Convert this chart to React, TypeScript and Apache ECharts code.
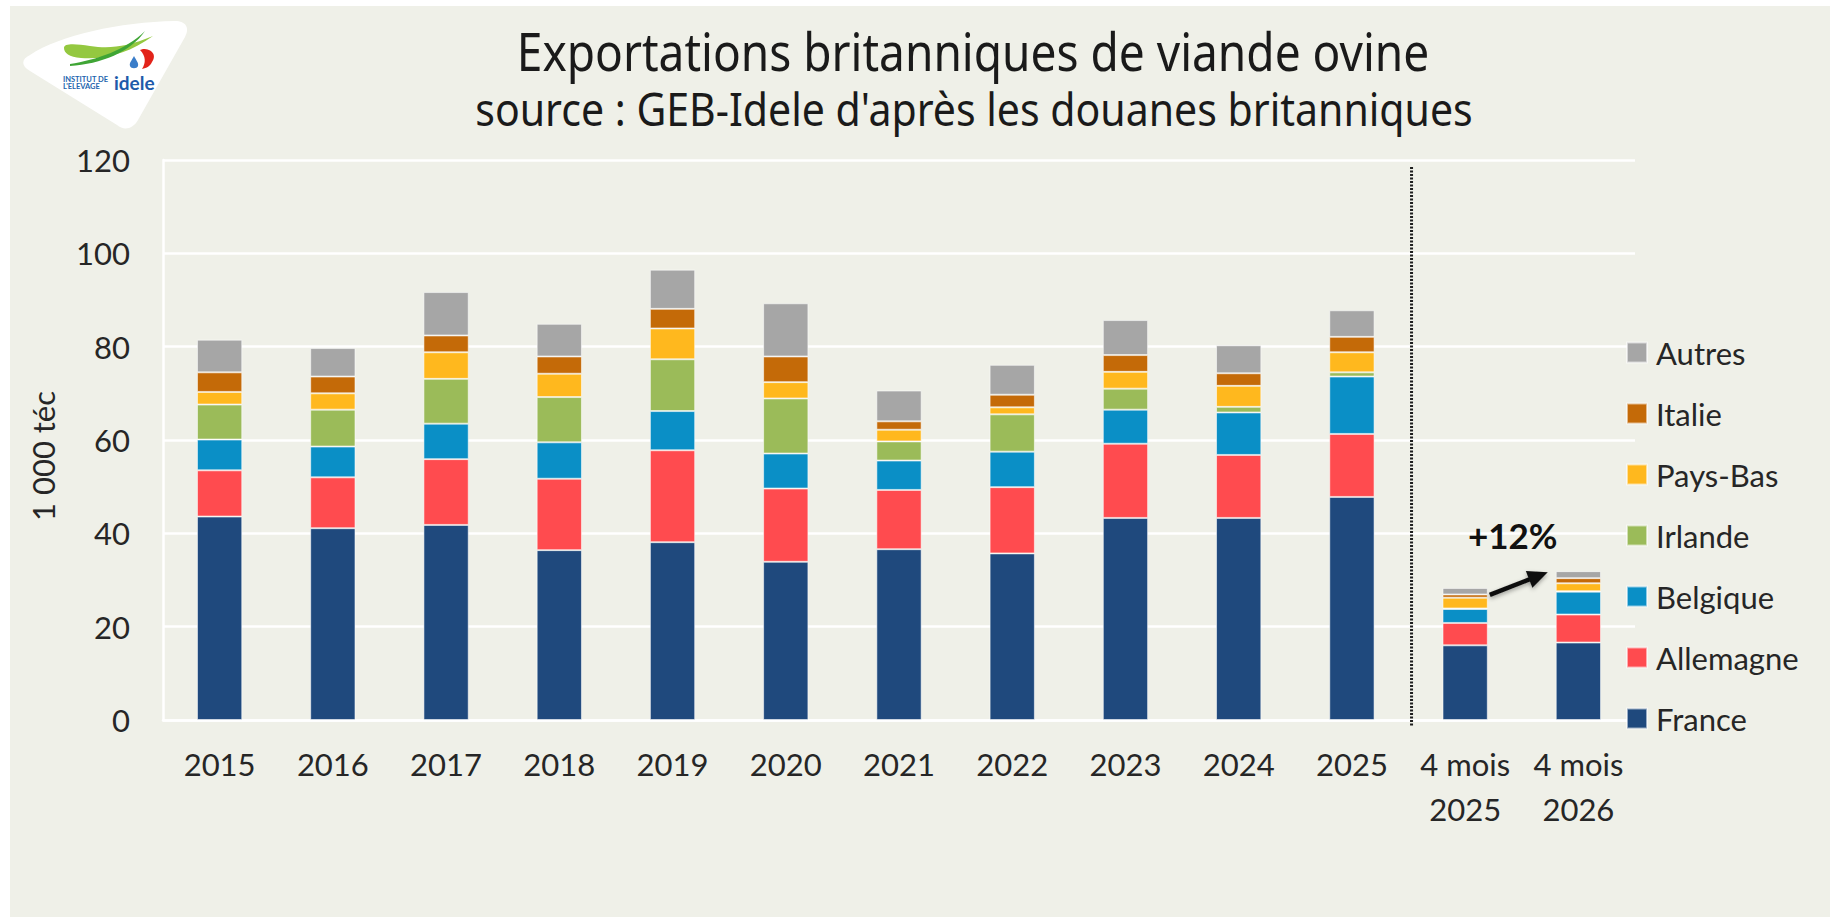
import React, { useEffect, useRef } from 'react';
import * as echarts from 'echarts';

// ---- Data (1 000 téc) ----
const categories = ['2015', '2016', '2017', '2018', '2019', '2020', '2021', '2022', '2023', '2024', '2025', '4 mois\n2025', '4 mois\n2026'];
const france = [43.6, 41.1, 41.8, 36.4, 38.1, 33.9, 36.6, 35.7, 43.3, 43.3, 47.8, 16.0, 16.6];
const allemagne = [9.9, 10.9, 14.1, 15.3, 19.7, 15.7, 12.7, 14.2, 15.9, 13.5, 13.5, 4.8, 6.0];
const belgique = [6.6, 6.6, 7.6, 7.8, 8.4, 7.5, 6.3, 7.6, 7.3, 9.1, 12.3, 3.0, 4.9];
const irlande = [7.5, 7.9, 9.6, 9.7, 11.1, 11.8, 4.1, 8.0, 4.5, 1.2, 0.9, 0.1, 0.1];
const paysBas = [2.7, 3.5, 5.7, 5.0, 6.6, 3.5, 2.5, 1.5, 3.6, 4.5, 4.3, 2.3, 1.7];
const italie = [4.2, 3.6, 3.6, 3.7, 4.2, 5.5, 1.8, 2.7, 3.6, 2.7, 3.3, 0.7, 1.1];
const autres = [7.0, 6.1, 9.3, 7.0, 8.4, 11.4, 6.6, 6.4, 7.5, 6.0, 5.7, 1.4, 1.5];

const seriesNames = ['France', 'Allemagne', 'Belgique', 'Irlande', 'Pays-Bas', 'Italie', 'Autres'];
const seriesValues = [france, allemagne, belgique, irlande, paysBas, italie, autres];
const seriesColors = ['#1F497D', '#FF4B4F', '#0A8FC6', '#9BBB59', '#FFB81E', '#C46A08', '#A6A6A6'];
const legendOrder = [...seriesNames].reverse();

const yMin = 0;
const yMax = 120;
const yInterval = 20;

const titleText = 'Exportations britanniques de viande ovine';
const subtitleText = "source : GEB-Idele d'après les douanes britanniques";
const yAxisTitle = '1 000 téc';
const growthLabel = '+12%';

// ---- Logo shapes ----
const LOGO_BLOB = 'M 30 55 C 60 35 120 22 175 21 C 186 21 190 28 185 37 L 138 120 C 133 129 124 131 117 125 L 30 71 C 21 66 21 59 30 55 Z';
const LOGO_SWOOSH1 = 'M 64 48 C 64 43 76 44 90 46 C 110 49 126 47 153 36 C 131 52 106 60 81 58 C 69 57 64 53 64 48 Z';
const LOGO_SWOOSH2 = 'M 70 64 C 96 60 126 50 145 31 C 131 52 101 64 70 66 Z';
const LOGO_RED = 'M 143 49 C 152 49 157 55 152 62 C 150 66 147 68 142 69 C 146 63 146 56 140 50 Z';
const LOGO_DROP = 'M 134 56 C 136 60 139 63 138 66 C 137 69 131 69 130 66 C 129 63 132 60 134 56 Z';

echarts.graphic.registerShape('logoBlob', echarts.graphic.extendPath(LOGO_BLOB, {}));
echarts.graphic.registerShape('logoSwoosh1', echarts.graphic.extendPath(LOGO_SWOOSH1, {}));
echarts.graphic.registerShape('logoSwoosh2', echarts.graphic.extendPath(LOGO_SWOOSH2, {}));
echarts.graphic.registerShape('logoRed', echarts.graphic.extendPath(LOGO_RED, {}));
echarts.graphic.registerShape('logoDrop', echarts.graphic.extendPath(LOGO_DROP, {}));

const LATO = "Lato, 'Noto Sans', sans-serif";
const TITLE_FONT = "'Noto Sans', sans-serif";
const TEXT_COLOR = '#262626';

function measure(text: string, font: string): number {
  const c = document.createElement('canvas').getContext('2d');
  if (!c) return 1;
  c.font = font;
  return c.measureText(text).width || 1;
}

export default function App() {
  const ref = useRef<HTMLDivElement>(null);

  useEffect(() => {
    if (!ref.current) return;
    const chart = echarts.init(ref.current, undefined, { renderer: 'svg' });

    chart.setOption({
      animation: false,
      backgroundColor: '#EFF0E8',
      grid: { left: 163, right: 195, top: 160, bottom: 197, containLabel: false },
      legend: {
        data: legendOrder,
        orient: 'vertical',
        left: 1626,
        top: 337,
        padding: 0,
        itemWidth: 20,
        itemHeight: 20,
        itemGap: 30,
        icon: 'rect',
        textStyle: { fontFamily: LATO, fontSize: 31, color: TEXT_COLOR, padding: [0, 0, 0, 4] },
      },
      xAxis: {
        type: 'category',
        data: categories,
        axisTick: { show: false },
        axisLine: { show: true, lineStyle: { color: '#FFFFFF', width: 2.5 } },
        axisLabel: { fontFamily: LATO, fontSize: 31, lineHeight: 45, color: TEXT_COLOR, margin: 21, interval: 0 },
      },
      yAxis: {
        type: 'value',
        min: yMin,
        max: yMax,
        interval: yInterval,
        axisLine: { show: true, lineStyle: { color: '#FFFFFF', width: 2.5 } },
        axisTick: { show: false },
        splitLine: { lineStyle: { color: '#FFFFFF', width: 2.5 } },
        axisLabel: { fontFamily: LATO, fontSize: 31, color: TEXT_COLOR, margin: 33 },
      },
      series: seriesNames.map((name, i) => ({
        name,
        type: 'bar',
        stack: 'total',
        barWidth: '40%',
        data: seriesValues[i],
        itemStyle: { color: seriesColors[i], borderColor: 'rgba(255,255,255,0.55)', borderWidth: 1 },
      })),
    });

    // Positions from the library's scales
    const px = (ci: number, v: number) => chart.convertToPixel({ xAxisIndex: 0, yAxisIndex: 0 }, [ci, v]) as number[];
    const total = (ci: number) => seriesValues.reduce((s, arr) => s + arr[ci], 0);
    const i25 = categories.length - 2;
    const i26 = categories.length - 1;
    const p25 = px(i25, total(i25));
    const p26 = px(i26, total(i26));
    const band = p26[0] - p25[0];
    const barW = band * 0.4;
    const sepX = (px(i25 - 1, 0)[0] + p25[0]) / 2 + 3;
    const topY = px(0, yMax)[1];
    const zeroY = px(0, yMin)[1];

    const start = [p25[0] + barW / 2 + 2, p25[1] + 7];
    const tip = [p26[0] - barW / 2 - 8, p26[1] + 1];
    const dx = tip[0] - start[0];
    const dy = tip[1] - start[1];
    const len = Math.sqrt(dx * dx + dy * dy);
    const ux = dx / len;
    const uy = dy / len;
    const headL = 20;
    const headW = 9;
    const base = [tip[0] - ux * headL, tip[1] - uy * headL];
    const nx = -uy;
    const ny = ux;

    const titleSize = 53;
    const subSize = 45;
    const titleScale = 913 / measure(titleText, `${titleSize}px 'Noto Sans'`);
    const subScale = 998 / measure(subtitleText, `${subSize}px 'Noto Sans'`);

    chart.setOption({
      graphic: [
        { type: 'rect', shape: { x: 0, y: 0, width: 1830, height: 6 }, style: { fill: '#FFFFFF' }, silent: true },
        { type: 'rect', shape: { x: 0, y: 0, width: 10, height: 917 }, style: { fill: '#FFFFFF' }, silent: true },
        // logo
        { type: 'logoBlob', x: 0, y: 0, style: { fill: '#FFFFFF' }, silent: true },
        { type: 'logoSwoosh1', x: 0, y: 0, style: { fill: '#94C840' }, silent: true },
        { type: 'logoSwoosh2', x: 0, y: 0, style: { fill: '#3FA535' }, silent: true },
        { type: 'logoRed', x: 0, y: 0, style: { fill: '#E2231A' }, silent: true },
        { type: 'logoDrop', x: 0, y: 0, style: { fill: '#3A7DC9' }, silent: true },
        { type: 'text', x: 63, y: 79, style: { text: 'INSTITUT DE', fontFamily: LATO, fontWeight: 'bold', fontSize: 7.5, fill: '#2364AE', verticalAlign: 'middle' }, silent: true },
        { type: 'text', x: 63, y: 86, style: { text: "L'ELEVAGE", fontFamily: LATO, fontWeight: 'bold', fontSize: 7.5, fill: '#2364AE', verticalAlign: 'middle' }, silent: true },
        { type: 'text', x: 114, y: 82, style: { text: 'idele', fontFamily: LATO, fontWeight: 'bold', fontSize: 19, fill: '#1E5BAA', verticalAlign: 'middle' }, silent: true },
        // titles
        {
          type: 'text', x: 973, y: 71 - 0.388 * titleSize, scaleX: titleScale, scaleY: 1,
          style: { text: titleText, fontFamily: TITLE_FONT, fontSize: titleSize, fill: '#1A1A1A', align: 'center', verticalAlign: 'middle' },
        },
        {
          type: 'text', x: 974, y: 126.7 - 0.388 * subSize, scaleX: subScale, scaleY: 1,
          style: { text: subtitleText, fontFamily: TITLE_FONT, fontSize: subSize, fill: '#1A1A1A', align: 'center', verticalAlign: 'middle' },
        },
        // y axis title
        {
          type: 'text', x: 43, y: 456, rotation: Math.PI / 2,
          style: { text: yAxisTitle, fontFamily: LATO, fontSize: 31, fill: TEXT_COLOR, align: 'center', verticalAlign: 'middle' },
        },
        // separator (dotted)
        {
          type: 'line', shape: { x1: sepX, y1: topY + 7, x2: sepX, y2: zeroY + 7 },
          style: { stroke: '#1E1E1E', lineWidth: 3, lineDash: [2, 1.5] },
          z: 10,
        },
        // growth arrow
        {
          type: 'line', shape: { x1: start[0], y1: start[1], x2: base[0] + ux * 2, y2: base[1] + uy * 2 },
          style: { stroke: '#111111', lineWidth: 4.5, shadowBlur: 4, shadowColor: 'rgba(0,0,0,0.35)', shadowOffsetY: 2 },
          z: 10,
        },
        {
          type: 'polygon',
          shape: { points: [[tip[0], tip[1]], [base[0] + nx * headW, base[1] + ny * headW], [base[0] - nx * headW, base[1] - ny * headW]] },
          style: { fill: '#111111', shadowBlur: 4, shadowColor: 'rgba(0,0,0,0.35)', shadowOffsetY: 2 },
          z: 10,
        },
        {
          type: 'text', x: p25[0] + 0.42 * band, y: p26[1] - 36,
          style: { text: growthLabel, fontFamily: LATO, fontWeight: 'bold', fontSize: 35, fill: '#111111', align: 'center', verticalAlign: 'middle' },
          z: 10,
        },
      ],
    });

    return () => chart.dispose();
  }, []);

  return <div ref={ref} style={{ position: 'fixed', left: 0, top: 0, width: 1830, height: 917 }} />;
}
